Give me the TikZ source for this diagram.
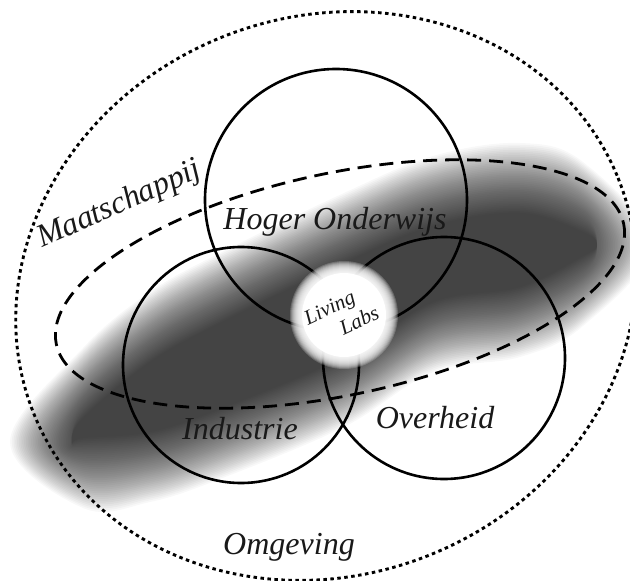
\documentclass[tikz,border=0pt]{standalone}
\usepackage{fontspec}
\setmainfont{Liberation Serif}
\begin{document}
\begin{tikzpicture}[x=1pt,y=-1pt,
  ring/.style={line width=2.6pt, draw=black},
  maat/.style={line width=2.8pt, draw=black, dash pattern=on 14pt off 8pt},
  omg/.style={line width=2.9pt, draw=black, dash pattern=on 3.5pt off 3.5pt},
  lbl/.style={font=\itshape\fontsize{32}{38}\selectfont, inner sep=0pt, text=black!90},
  small/.style={font=\itshape\fontsize{21}{24}\selectfont, inner sep=0pt, rotate=25, align=left, text=black!90},
  haze/.style={fill=black, opacity=0.028},
]
\useasboundingbox (0,0) rectangle (630,581);
\clip (0,0) rectangle (630,581);
\fill[white] (0,0) rectangle (630,581);

% gray blurred band (layered soft curved band)
\foreach \k in {0,...,40}{
  \pgfmathsetmacro\o{30-\k*1.75}
  \fill[haze] plot[smooth cycle, tension=0.6] coordinates {
    ({min(40-\o,72)},442)
    (83,{428-max(50+\o,3)})
    (150,{397-max(75+\o,3)})
    (220,{366-max(83+\o,3)})
    (344,{310-max(87+\o,3)})
    (433,{264-max(78+\o,3)})
    (520,{250-max(77+\o,3)})
    (583,{244-max(52+\o,3)})
    ({max(620+\o,597)},245)
    (583,{244+max(52+\o,3)})
    (520,{250+max(77+\o,3)})
    (433,{264+max(78+\o,3)})
    (344,{310+max(87+\o,3)})
    (220,{366+max(83+\o,3)})
    (150,{397+max(75+\o,3)})
    (83,{428+max(50+\o,3)})
  };
}

% three circles
\draw[ring] (336,200) circle (131);
\draw[ring] (241,365) circle (118);
\draw[ring] (444,358) circle (121);

% Maatschappij dashed ellipse
\draw[maat, rotate around={12:(340,284)}] (340,284) ellipse [x radius=290, y radius=111];

% Omgeving dotted ellipse
\draw[omg, rotate around={22:(326,296)}] (326,296) ellipse [x radius=315, y radius=279];

% Living Labs glow
\foreach \r in {54,53,...,42}
  \fill[white, opacity=0.2] (344,315) circle (\r);
\fill[white] (344,315) circle (42);

% labels
\node[lbl, anchor=base] (ho) at (335,229) {Hoger Onderwijs};
\node[lbl, anchor=base] (ind) at (240,439) {Industrie};
\node[lbl, anchor=base] (ov) at (435,428) {Overheid};
\node[lbl, anchor=base] (om) at (289,554) {Omgeving};
\node[lbl, anchor=base west, rotate=24] (ma) at (42,248) {Maatschappij};
\node[small, anchor=base west] (ll) at (318,347) {Living\\\hspace*{28pt}Labs};
\end{tikzpicture}
\end{document}
